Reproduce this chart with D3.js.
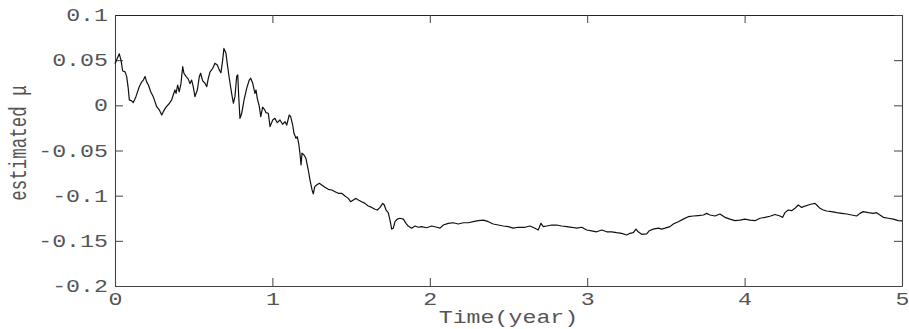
<!DOCTYPE html>
<html>
<head>
<meta charset="utf-8">
<script src="https://cdn.jsdelivr.net/npm/d3@7/dist/d3.min.js"></script>
<style>
  body { margin: 0; background: #fff; }
  text { font-family: "Liberation Mono", "DejaVu Sans Mono", monospace; fill: #555; }
</style>
</head>
<body>
<svg id="chart" width="909" height="329"></svg>
<script>
// Estimated drift over time (years)
const years = [
  0.000, 0.015, 0.027, 0.038, 0.049, 0.064, 0.074, 0.084, 0.091, 0.106,
  0.116, 0.133, 0.154, 0.170, 0.180, 0.191, 0.201, 0.212, 0.227, 0.243,
  0.265, 0.281, 0.297, 0.307, 0.324, 0.345, 0.360, 0.370, 0.381, 0.388,
  0.398, 0.408, 0.419, 0.430, 0.438, 0.451, 0.466, 0.476, 0.487, 0.497,
  0.508, 0.523, 0.536, 0.544, 0.557, 0.572, 0.583, 0.593, 0.604, 0.621,
  0.635, 0.650, 0.663, 0.673, 0.684, 0.692, 0.705, 0.713, 0.726, 0.741,
  0.752, 0.762, 0.773, 0.780, 0.786, 0.794, 0.805, 0.820, 0.837, 0.853,
  0.862, 0.875, 0.889, 0.896, 0.904, 0.917, 0.926, 0.938, 0.949, 0.959,
  0.974, 0.985, 1.002, 1.016, 1.031, 1.048, 1.065, 1.080, 1.091, 1.107,
  1.116, 1.129, 1.137, 1.150, 1.158, 1.167, 1.175, 1.182, 1.188, 1.201,
  1.213, 1.228, 1.239, 1.252, 1.260, 1.269, 1.281, 1.298, 1.313, 1.334,
  1.355, 1.377, 1.398, 1.419, 1.440, 1.461, 1.482, 1.497, 1.514, 1.531,
  1.546, 1.567, 1.588, 1.609, 1.631, 1.652, 1.667, 1.684, 1.701, 1.711,
  1.722, 1.736, 1.747, 1.758, 1.768, 1.779, 1.793, 1.811, 1.832, 1.849,
  1.863, 1.885, 1.906, 1.927, 1.948, 1.980, 2.012, 2.044, 2.065, 2.086,
  2.117, 2.149, 2.181, 2.213, 2.245, 2.276, 2.308, 2.340, 2.372, 2.403,
  2.435, 2.467, 2.499, 2.530, 2.562, 2.604, 2.637, 2.668, 2.689, 2.706,
  2.721, 2.743, 2.774, 2.806, 2.838, 2.870, 2.901, 2.933, 2.965, 2.997,
  3.028, 3.060, 3.092, 3.124, 3.156, 3.187, 3.219, 3.251, 3.272, 3.293,
  3.310, 3.324, 3.346, 3.378, 3.394, 3.420, 3.452, 3.473, 3.494, 3.526,
  3.547, 3.579, 3.610, 3.642, 3.674, 3.706, 3.738, 3.759, 3.780, 3.812,
  3.843, 3.875, 3.907, 3.939, 3.971, 4.002, 4.034, 4.066, 4.098, 4.129,
  4.161, 4.193, 4.225, 4.242, 4.256, 4.277, 4.299, 4.320, 4.341, 4.363,
  4.384, 4.405, 4.426, 4.447, 4.458, 4.479, 4.500, 4.521, 4.553, 4.585,
  4.617, 4.649, 4.680, 4.712, 4.733, 4.754, 4.786, 4.817, 4.839, 4.860,
  4.881, 4.913, 4.945, 4.976, 5.000
];
const mu = [
  0.046, 0.052, 0.057, 0.050, 0.038, 0.037, 0.032, 0.019, 0.006, 0.005,
  0.003, 0.0096, 0.0206, 0.026, 0.028, 0.032, 0.026, 0.0225, 0.015, 0.0096,
  -0.0015, -0.005, -0.0107, -0.007, -0.002, 0.002, 0.006, 0.0114, 0.017, 0.0133,
  0.0225, 0.015, 0.024, 0.0428, 0.0355, 0.032, 0.029, 0.024, 0.028, 0.0206,
  0.0096, 0.017, 0.032, 0.0355, 0.027, 0.0244, 0.0206, 0.030, 0.037, 0.041,
  0.0465, 0.0447, 0.039, 0.036, 0.050, 0.063, 0.0576, 0.0465, 0.030, 0.0133,
  0.0023, 0.0096, 0.032, 0.0336, 0.0096, -0.0144, -0.0088, 0.006, 0.019, 0.028,
  0.030, 0.0244, 0.0133, 0.017, 0.0078, -0.0015, -0.0126, -0.002, -0.0044, -0.008,
  -0.0088, -0.0236, -0.0162, -0.0144, -0.0192, -0.0162, -0.021, -0.018, -0.0218, -0.0107,
  -0.0126, -0.0218, -0.031, -0.0365, -0.0347, -0.042, -0.053, -0.066, -0.053, -0.055,
  -0.0586, -0.0716, -0.0827, -0.0937, -0.098, -0.090, -0.0882, -0.0863, -0.0882, -0.0908,
  -0.093, -0.0937, -0.0956, -0.0974, -0.0974, -0.1004, -0.103, -0.1067, -0.1048, -0.103,
  -0.1048, -0.1067, -0.1085, -0.1115, -0.113, -0.115, -0.1159, -0.113, -0.1085, -0.1103,
  -0.1159, -0.1188, -0.127, -0.137, -0.136, -0.1288, -0.126, -0.125, -0.126, -0.1306,
  -0.1336, -0.136, -0.1336, -0.135, -0.1343, -0.1355, -0.1336, -0.135, -0.136, -0.1325,
  -0.1306, -0.130, -0.1314, -0.130, -0.130, -0.1288, -0.1277, -0.127, -0.1288, -0.1314,
  -0.1325, -0.1336, -0.1343, -0.136, -0.135, -0.135, -0.1336, -0.136, -0.138, -0.1306,
  -0.1343, -0.1336, -0.1325, -0.1325, -0.1336, -0.1343, -0.135, -0.136, -0.135, -0.138,
  -0.1389, -0.140, -0.138, -0.140, -0.140, -0.141, -0.1417, -0.1435, -0.1417, -0.141,
  -0.137, -0.140, -0.1428, -0.1424, -0.1389, -0.137, -0.136, -0.137, -0.136, -0.1343,
  -0.1314, -0.1288, -0.126, -0.1233, -0.1225, -0.122, -0.1214, -0.1196, -0.1214, -0.1225,
  -0.1203, -0.124, -0.126, -0.1277, -0.127, -0.126, -0.127, -0.1277, -0.125, -0.124,
  -0.1228, -0.1208, -0.1225, -0.124, -0.1188, -0.1159, -0.1166, -0.114, -0.1103, -0.113,
  -0.1115, -0.1103, -0.1092, -0.1085, -0.1103, -0.114, -0.1159, -0.117, -0.1177, -0.1188,
  -0.1196, -0.1203, -0.1214, -0.1225, -0.1196, -0.1177, -0.1188, -0.1196, -0.1188, -0.1214,
  -0.124, -0.125, -0.126, -0.1277, -0.128
];

const xTicks = [0, 1, 2, 3, 4, 5];
const xTickLabels = ["0", "1", "2", "3", "4", "5"];
const yTicks = [0.1, 0.05, 0, -0.05, -0.1, -0.15, -0.2];
const yTickLabels = ["0.1", "0.05", "0", "-0.05", "-0.1", "-0.15", "-0.2"];
const xTitle = "Time(year)";
const yTitle = "estimated \u03bc";

const width = 909, height = 329;
const margin = { top: 15, right: 7, bottom: 43, left: 115 };
const stretch = 1.33;   // wide monospace lettering
const fontSize = 17.5;
const tick = 8;

const svg = d3.select("#chart");
const x = d3.scaleLinear().domain([0, 5]).range([margin.left, width - margin.right]);
const y = d3.scaleLinear().domain([-0.2, 0.1]).range([height - margin.bottom, margin.top]);

const axisColor = "#444";
function styleAxis(g) {
  g.select(".domain").attr("stroke", axisColor).attr("stroke-width", 1.1);
  g.selectAll(".tick line").attr("stroke", axisColor).attr("stroke-width", 1);
  g.selectAll("text").attr("font-size", fontSize)
    .attr("font-family", "'Liberation Mono', 'DejaVu Sans Mono', monospace")
    .attr("fill", "#555");
}

// bottom axis with labels
const gx = svg.append("g")
  .attr("transform", `translate(0,${height - margin.bottom})`)
  .call(d3.axisBottom(x).tickValues(xTicks)
    .tickFormat((d, i) => xTickLabels[i])
    .tickSizeInner(-tick).tickSizeOuter(0).tickPadding(7));
styleAxis(gx);
gx.selectAll("text").attr("transform", `scale(${stretch},1)`);

// left axis with labels
const gy = svg.append("g")
  .attr("transform", `translate(${margin.left},0)`)
  .call(d3.axisLeft(y).tickValues(yTicks)
    .tickFormat((d, i) => yTickLabels[i])
    .tickSizeInner(-tick).tickSizeOuter(0).tickPadding(7));
styleAxis(gy);
gy.selectAll("text")
  .attr("x", -7 / stretch)
  .attr("transform", `scale(${stretch},1)`);

// mirrored top and right axes, ticks only
const gt = svg.append("g")
  .attr("transform", `translate(0,${margin.top})`)
  .call(d3.axisTop(x).tickValues(xTicks).tickFormat("")
    .tickSizeInner(-tick).tickSizeOuter(0));
styleAxis(gt);
gt.select(".domain").attr("stroke", "#222");

const gr = svg.append("g")
  .attr("transform", `translate(${width - margin.right},0)`)
  .call(d3.axisRight(y).tickValues(yTicks).tickFormat("")
    .tickSizeInner(-tick).tickSizeOuter(0));
styleAxis(gr);

// the estimate path
const series = years.map((t, i) => [t, mu[i]]);
svg.append("path")
  .datum(series)
  .attr("fill", "none")
  .attr("stroke", "#111")
  .attr("stroke-width", 1.2)
  .attr("stroke-linejoin", "round")
  .attr("d", d3.line().x(d => x(d[0])).y(d => y(d[1])));

// axis titles
svg.append("text")
  .attr("transform", `translate(${(x(0) + x(5)) / 2},323) scale(${stretch},1)`)
  .attr("text-anchor", "middle")
  .attr("font-size", fontSize)
  .text(xTitle);

svg.append("text")
  .attr("transform", `translate(18,143) scale(${stretch},1) rotate(-90)`)
  .attr("text-anchor", "middle")
  .attr("dy", "0.35em")
  .attr("font-size", fontSize)
  .text(yTitle);
</script>
</body>
</html>
